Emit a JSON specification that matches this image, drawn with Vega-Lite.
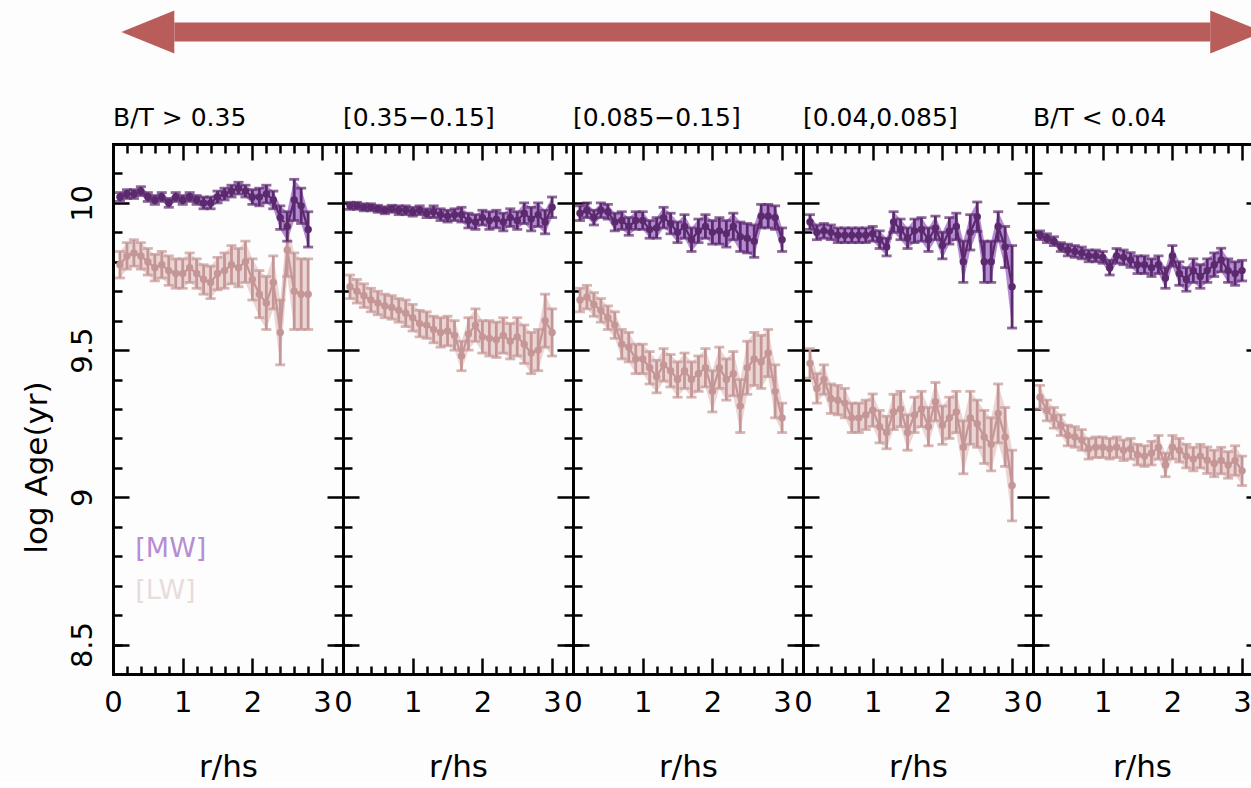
{
"$schema": "https://vega.github.io/schema/vega-lite/v6.json",
"background": "#fdfdfd",
"padding": {"left": 21, "top": 0, "right": 0, "bottom": 0},
"config": {
  "font": "DejaVu Sans",
  "view": {"stroke": null},
  "axis": {"grid": false, "domainColor": "black", "tickColor": "black", "labelColor": "black", "titleColor": "black", "labelFont": "DejaVu Sans", "titleFont": "DejaVu Sans", "titleFontWeight": "normal", "domainWidth": 3, "tickWidth": 2.5, "domainCap": "square", "labelFlush": false, "labelOverlap": false},
  "title": {"font": "DejaVu Sans", "fontSize": 25, "fontWeight": "normal", "anchor": "start", "frame": "group", "offset": 12, "baseline": "alphabetic", "color": "black"}
},
"datasets": {"d": [
{"p":1,"s":"LW","x":0.1,"y":9.79,"e":0.045},{"p":1,"s":"LW","x":0.2,"y":9.82,"e":0.045},{"p":1,"s":"LW","x":0.3,"y":9.83,"e":0.045},{"p":1,"s":"LW","x":0.4,"y":9.82,"e":0.045},{"p":1,"s":"LW","x":0.5,"y":9.80,"e":0.045},{"p":1,"s":"LW","x":0.6,"y":9.78,"e":0.045},{"p":1,"s":"LW","x":0.7,"y":9.79,"e":0.045},{"p":1,"s":"LW","x":0.8,"y":9.77,"e":0.05},{"p":1,"s":"LW","x":0.9,"y":9.76,"e":0.05},{"p":1,"s":"LW","x":1.0,"y":9.76,"e":0.05},{"p":1,"s":"LW","x":1.1,"y":9.78,"e":0.05},{"p":1,"s":"LW","x":1.2,"y":9.76,"e":0.05},{"p":1,"s":"LW","x":1.3,"y":9.74,"e":0.05},{"p":1,"s":"LW","x":1.4,"y":9.73,"e":0.055},{"p":1,"s":"LW","x":1.5,"y":9.76,"e":0.055},{"p":1,"s":"LW","x":1.6,"y":9.77,"e":0.06},{"p":1,"s":"LW","x":1.7,"y":9.79,"e":0.065},{"p":1,"s":"LW","x":1.8,"y":9.78,"e":0.065},{"p":1,"s":"LW","x":1.9,"y":9.80,"e":0.07},{"p":1,"s":"LW","x":2.0,"y":9.74,"e":0.07},{"p":1,"s":"LW","x":2.1,"y":9.69,"e":0.08},{"p":1,"s":"LW","x":2.2,"y":9.66,"e":0.09},{"p":1,"s":"LW","x":2.3,"y":9.73,"e":0.09},{"p":1,"s":"LW","x":2.4,"y":9.56,"e":0.11},{"p":1,"s":"LW","x":2.5,"y":9.84,"e":0.09},{"p":1,"s":"LW","x":2.6,"y":9.70,"e":0.13},{"p":1,"s":"LW","x":2.7,"y":9.69,"e":0.12},{"p":1,"s":"LW","x":2.8,"y":9.69,"e":0.12},
{"p":1,"s":"MW","x":0.1,"y":10.02,"e":0.015},{"p":1,"s":"MW","x":0.2,"y":10.03,"e":0.015},{"p":1,"s":"MW","x":0.3,"y":10.03,"e":0.015},{"p":1,"s":"MW","x":0.4,"y":10.04,"e":0.015},{"p":1,"s":"MW","x":0.5,"y":10.02,"e":0.015},{"p":1,"s":"MW","x":0.6,"y":10.01,"e":0.015},{"p":1,"s":"MW","x":0.7,"y":10.02,"e":0.015},{"p":1,"s":"MW","x":0.8,"y":10.0,"e":0.015},{"p":1,"s":"MW","x":0.9,"y":10.02,"e":0.015},{"p":1,"s":"MW","x":1.0,"y":10.01,"e":0.015},{"p":1,"s":"MW","x":1.1,"y":10.02,"e":0.015},{"p":1,"s":"MW","x":1.2,"y":10.01,"e":0.015},{"p":1,"s":"MW","x":1.3,"y":10.0,"e":0.02},{"p":1,"s":"MW","x":1.4,"y":10.0,"e":0.02},{"p":1,"s":"MW","x":1.5,"y":10.02,"e":0.02},{"p":1,"s":"MW","x":1.6,"y":10.03,"e":0.02},{"p":1,"s":"MW","x":1.7,"y":10.04,"e":0.02},{"p":1,"s":"MW","x":1.8,"y":10.05,"e":0.02},{"p":1,"s":"MW","x":1.9,"y":10.04,"e":0.02},{"p":1,"s":"MW","x":2.0,"y":10.02,"e":0.025},{"p":1,"s":"MW","x":2.1,"y":10.02,"e":0.03},{"p":1,"s":"MW","x":2.2,"y":10.03,"e":0.03},{"p":1,"s":"MW","x":2.3,"y":10.01,"e":0.03},{"p":1,"s":"MW","x":2.4,"y":9.95,"e":0.04},{"p":1,"s":"MW","x":2.5,"y":9.92,"e":0.05},{"p":1,"s":"MW","x":2.6,"y":10.01,"e":0.07},{"p":1,"s":"MW","x":2.7,"y":9.99,"e":0.06},{"p":1,"s":"MW","x":2.8,"y":9.91,"e":0.06},
{"p":2,"s":"LW","x":0.1,"y":9.715,"e":0.04},{"p":2,"s":"LW","x":0.2,"y":9.70,"e":0.04},{"p":2,"s":"LW","x":0.3,"y":9.685,"e":0.04},{"p":2,"s":"LW","x":0.4,"y":9.67,"e":0.04},{"p":2,"s":"LW","x":0.5,"y":9.66,"e":0.04},{"p":2,"s":"LW","x":0.6,"y":9.65,"e":0.04},{"p":2,"s":"LW","x":0.7,"y":9.645,"e":0.04},{"p":2,"s":"LW","x":0.8,"y":9.635,"e":0.04},{"p":2,"s":"LW","x":0.9,"y":9.625,"e":0.045},{"p":2,"s":"LW","x":1.0,"y":9.61,"e":0.045},{"p":2,"s":"LW","x":1.1,"y":9.59,"e":0.045},{"p":2,"s":"LW","x":1.2,"y":9.585,"e":0.045},{"p":2,"s":"LW","x":1.3,"y":9.57,"e":0.045},{"p":2,"s":"LW","x":1.4,"y":9.56,"e":0.05},{"p":2,"s":"LW","x":1.5,"y":9.565,"e":0.05},{"p":2,"s":"LW","x":1.6,"y":9.55,"e":0.05},{"p":2,"s":"LW","x":1.7,"y":9.48,"e":0.05},{"p":2,"s":"LW","x":1.8,"y":9.555,"e":0.055},{"p":2,"s":"LW","x":1.9,"y":9.585,"e":0.055},{"p":2,"s":"LW","x":2.0,"y":9.545,"e":0.055},{"p":2,"s":"LW","x":2.1,"y":9.54,"e":0.06},{"p":2,"s":"LW","x":2.2,"y":9.535,"e":0.06},{"p":2,"s":"LW","x":2.3,"y":9.55,"e":0.06},{"p":2,"s":"LW","x":2.4,"y":9.53,"e":0.06},{"p":2,"s":"LW","x":2.5,"y":9.545,"e":0.065},{"p":2,"s":"LW","x":2.6,"y":9.52,"e":0.065},{"p":2,"s":"LW","x":2.7,"y":9.49,"e":0.07},{"p":2,"s":"LW","x":2.8,"y":9.50,"e":0.07},{"p":2,"s":"LW","x":2.9,"y":9.60,"e":0.09},{"p":2,"s":"LW","x":3.0,"y":9.56,"e":0.08},
{"p":2,"s":"MW","x":0.1,"y":9.99,"e":0.012},{"p":2,"s":"MW","x":0.2,"y":9.99,"e":0.012},{"p":2,"s":"MW","x":0.3,"y":9.985,"e":0.012},{"p":2,"s":"MW","x":0.4,"y":9.985,"e":0.012},{"p":2,"s":"MW","x":0.5,"y":9.98,"e":0.012},{"p":2,"s":"MW","x":0.6,"y":9.975,"e":0.012},{"p":2,"s":"MW","x":0.7,"y":9.98,"e":0.012},{"p":2,"s":"MW","x":0.8,"y":9.975,"e":0.015},{"p":2,"s":"MW","x":0.9,"y":9.975,"e":0.015},{"p":2,"s":"MW","x":1.0,"y":9.97,"e":0.015},{"p":2,"s":"MW","x":1.1,"y":9.975,"e":0.015},{"p":2,"s":"MW","x":1.2,"y":9.965,"e":0.015},{"p":2,"s":"MW","x":1.3,"y":9.97,"e":0.02},{"p":2,"s":"MW","x":1.4,"y":9.96,"e":0.02},{"p":2,"s":"MW","x":1.5,"y":9.955,"e":0.02},{"p":2,"s":"MW","x":1.6,"y":9.96,"e":0.02},{"p":2,"s":"MW","x":1.7,"y":9.96,"e":0.025},{"p":2,"s":"MW","x":1.8,"y":9.94,"e":0.025},{"p":2,"s":"MW","x":1.9,"y":9.935,"e":0.025},{"p":2,"s":"MW","x":2.0,"y":9.95,"e":0.025},{"p":2,"s":"MW","x":2.1,"y":9.94,"e":0.03},{"p":2,"s":"MW","x":2.2,"y":9.945,"e":0.03},{"p":2,"s":"MW","x":2.3,"y":9.935,"e":0.03},{"p":2,"s":"MW","x":2.4,"y":9.95,"e":0.03},{"p":2,"s":"MW","x":2.5,"y":9.94,"e":0.03},{"p":2,"s":"MW","x":2.6,"y":9.965,"e":0.035},{"p":2,"s":"MW","x":2.7,"y":9.945,"e":0.04},{"p":2,"s":"MW","x":2.8,"y":9.96,"e":0.04},{"p":2,"s":"MW","x":2.9,"y":9.935,"e":0.04},{"p":2,"s":"MW","x":3.0,"y":9.985,"e":0.035},
{"p":3,"s":"LW","x":0.1,"y":9.67,"e":0.04},{"p":3,"s":"LW","x":0.2,"y":9.68,"e":0.04},{"p":3,"s":"LW","x":0.3,"y":9.655,"e":0.04},{"p":3,"s":"LW","x":0.4,"y":9.635,"e":0.04},{"p":3,"s":"LW","x":0.5,"y":9.61,"e":0.04},{"p":3,"s":"LW","x":0.6,"y":9.585,"e":0.045},{"p":3,"s":"LW","x":0.7,"y":9.52,"e":0.05},{"p":3,"s":"LW","x":0.8,"y":9.51,"e":0.05},{"p":3,"s":"LW","x":0.9,"y":9.47,"e":0.05},{"p":3,"s":"LW","x":1.0,"y":9.47,"e":0.05},{"p":3,"s":"LW","x":1.1,"y":9.44,"e":0.055},{"p":3,"s":"LW","x":1.2,"y":9.41,"e":0.055},{"p":3,"s":"LW","x":1.3,"y":9.45,"e":0.055},{"p":3,"s":"LW","x":1.4,"y":9.43,"e":0.055},{"p":3,"s":"LW","x":1.5,"y":9.40,"e":0.06},{"p":3,"s":"LW","x":1.6,"y":9.43,"e":0.06},{"p":3,"s":"LW","x":1.7,"y":9.40,"e":0.06},{"p":3,"s":"LW","x":1.8,"y":9.42,"e":0.06},{"p":3,"s":"LW","x":1.9,"y":9.44,"e":0.065},{"p":3,"s":"LW","x":2.0,"y":9.36,"e":0.07},{"p":3,"s":"LW","x":2.1,"y":9.44,"e":0.07},{"p":3,"s":"LW","x":2.2,"y":9.40,"e":0.07},{"p":3,"s":"LW","x":2.3,"y":9.42,"e":0.075},{"p":3,"s":"LW","x":2.4,"y":9.31,"e":0.09},{"p":3,"s":"LW","x":2.5,"y":9.44,"e":0.09},{"p":3,"s":"LW","x":2.6,"y":9.47,"e":0.09},{"p":3,"s":"LW","x":2.7,"y":9.46,"e":0.09},{"p":3,"s":"LW","x":2.8,"y":9.49,"e":0.08},{"p":3,"s":"LW","x":2.9,"y":9.36,"e":0.09},{"p":3,"s":"LW","x":3.0,"y":9.27,"e":0.05},
{"p":3,"s":"MW","x":0.1,"y":9.965,"e":0.025},{"p":3,"s":"MW","x":0.2,"y":9.975,"e":0.025},{"p":3,"s":"MW","x":0.3,"y":9.95,"e":0.025},{"p":3,"s":"MW","x":0.4,"y":9.975,"e":0.025},{"p":3,"s":"MW","x":0.5,"y":9.97,"e":0.025},{"p":3,"s":"MW","x":0.6,"y":9.935,"e":0.03},{"p":3,"s":"MW","x":0.7,"y":9.94,"e":0.03},{"p":3,"s":"MW","x":0.8,"y":9.92,"e":0.03},{"p":3,"s":"MW","x":0.9,"y":9.94,"e":0.03},{"p":3,"s":"MW","x":1.0,"y":9.94,"e":0.03},{"p":3,"s":"MW","x":1.1,"y":9.91,"e":0.03},{"p":3,"s":"MW","x":1.2,"y":9.915,"e":0.035},{"p":3,"s":"MW","x":1.3,"y":9.95,"e":0.035},{"p":3,"s":"MW","x":1.4,"y":9.93,"e":0.035},{"p":3,"s":"MW","x":1.5,"y":9.90,"e":0.035},{"p":3,"s":"MW","x":1.6,"y":9.92,"e":0.04},{"p":3,"s":"MW","x":1.7,"y":9.875,"e":0.04},{"p":3,"s":"MW","x":1.8,"y":9.905,"e":0.04},{"p":3,"s":"MW","x":1.9,"y":9.92,"e":0.04},{"p":3,"s":"MW","x":2.0,"y":9.90,"e":0.04},{"p":3,"s":"MW","x":2.1,"y":9.905,"e":0.045},{"p":3,"s":"MW","x":2.2,"y":9.895,"e":0.045},{"p":3,"s":"MW","x":2.3,"y":9.92,"e":0.045},{"p":3,"s":"MW","x":2.4,"y":9.885,"e":0.05},{"p":3,"s":"MW","x":2.5,"y":9.88,"e":0.05},{"p":3,"s":"MW","x":2.6,"y":9.87,"e":0.055},{"p":3,"s":"MW","x":2.7,"y":9.955,"e":0.04},{"p":3,"s":"MW","x":2.8,"y":9.955,"e":0.04},{"p":3,"s":"MW","x":2.9,"y":9.95,"e":0.04},{"p":3,"s":"MW","x":3.0,"y":9.875,"e":0.04},
{"p":4,"s":"LW","x":0.1,"y":9.455,"e":0.05},{"p":4,"s":"LW","x":0.2,"y":9.37,"e":0.05},{"p":4,"s":"LW","x":0.3,"y":9.40,"e":0.05},{"p":4,"s":"LW","x":0.4,"y":9.335,"e":0.05},{"p":4,"s":"LW","x":0.5,"y":9.33,"e":0.05},{"p":4,"s":"LW","x":0.6,"y":9.32,"e":0.05},{"p":4,"s":"LW","x":0.7,"y":9.27,"e":0.05},{"p":4,"s":"LW","x":0.8,"y":9.27,"e":0.05},{"p":4,"s":"LW","x":0.9,"y":9.28,"e":0.05},{"p":4,"s":"LW","x":1.0,"y":9.296,"e":0.055},{"p":4,"s":"LW","x":1.1,"y":9.24,"e":0.055},{"p":4,"s":"LW","x":1.2,"y":9.22,"e":0.055},{"p":4,"s":"LW","x":1.3,"y":9.29,"e":0.06},{"p":4,"s":"LW","x":1.4,"y":9.30,"e":0.06},{"p":4,"s":"LW","x":1.5,"y":9.22,"e":0.06},{"p":4,"s":"LW","x":1.6,"y":9.28,"e":0.06},{"p":4,"s":"LW","x":1.7,"y":9.30,"e":0.06},{"p":4,"s":"LW","x":1.8,"y":9.24,"e":0.065},{"p":4,"s":"LW","x":1.9,"y":9.325,"e":0.065},{"p":4,"s":"LW","x":2.0,"y":9.245,"e":0.065},{"p":4,"s":"LW","x":2.1,"y":9.27,"e":0.07},{"p":4,"s":"LW","x":2.2,"y":9.29,"e":0.07},{"p":4,"s":"LW","x":2.3,"y":9.17,"e":0.09},{"p":4,"s":"LW","x":2.4,"y":9.27,"e":0.09},{"p":4,"s":"LW","x":2.5,"y":9.25,"e":0.08},{"p":4,"s":"LW","x":2.6,"y":9.205,"e":0.09},{"p":4,"s":"LW","x":2.7,"y":9.18,"e":0.09},{"p":4,"s":"LW","x":2.8,"y":9.285,"e":0.1},{"p":4,"s":"LW","x":2.9,"y":9.205,"e":0.1},{"p":4,"s":"LW","x":3.0,"y":9.04,"e":0.12},
{"p":4,"s":"MW","x":0.1,"y":9.935,"e":0.025},{"p":4,"s":"MW","x":0.2,"y":9.90,"e":0.025},{"p":4,"s":"MW","x":0.3,"y":9.905,"e":0.025},{"p":4,"s":"MW","x":0.4,"y":9.90,"e":0.025},{"p":4,"s":"MW","x":0.5,"y":9.89,"e":0.025},{"p":4,"s":"MW","x":0.6,"y":9.89,"e":0.025},{"p":4,"s":"MW","x":0.7,"y":9.89,"e":0.025},{"p":4,"s":"MW","x":0.8,"y":9.89,"e":0.025},{"p":4,"s":"MW","x":0.9,"y":9.89,"e":0.025},{"p":4,"s":"MW","x":1.0,"y":9.895,"e":0.025},{"p":4,"s":"MW","x":1.1,"y":9.875,"e":0.03},{"p":4,"s":"MW","x":1.2,"y":9.85,"e":0.03},{"p":4,"s":"MW","x":1.3,"y":9.935,"e":0.035},{"p":4,"s":"MW","x":1.4,"y":9.91,"e":0.035},{"p":4,"s":"MW","x":1.5,"y":9.88,"e":0.035},{"p":4,"s":"MW","x":1.6,"y":9.905,"e":0.04},{"p":4,"s":"MW","x":1.7,"y":9.91,"e":0.04},{"p":4,"s":"MW","x":1.8,"y":9.875,"e":0.04},{"p":4,"s":"MW","x":1.9,"y":9.915,"e":0.04},{"p":4,"s":"MW","x":2.0,"y":9.855,"e":0.045},{"p":4,"s":"MW","x":2.1,"y":9.905,"e":0.045},{"p":4,"s":"MW","x":2.2,"y":9.92,"e":0.045},{"p":4,"s":"MW","x":2.3,"y":9.80,"e":0.07},{"p":4,"s":"MW","x":2.4,"y":9.90,"e":0.06},{"p":4,"s":"MW","x":2.5,"y":9.953,"e":0.05},{"p":4,"s":"MW","x":2.6,"y":9.80,"e":0.07},{"p":4,"s":"MW","x":2.7,"y":9.80,"e":0.07},{"p":4,"s":"MW","x":2.8,"y":9.92,"e":0.05},{"p":4,"s":"MW","x":2.9,"y":9.85,"e":0.07},{"p":4,"s":"MW","x":3.0,"y":9.715,"e":0.14},
{"p":5,"s":"LW","x":0.1,"y":9.34,"e":0.04},{"p":5,"s":"LW","x":0.2,"y":9.295,"e":0.035},{"p":5,"s":"LW","x":0.3,"y":9.27,"e":0.035},{"p":5,"s":"LW","x":0.4,"y":9.245,"e":0.035},{"p":5,"s":"LW","x":0.5,"y":9.21,"e":0.035},{"p":5,"s":"LW","x":0.6,"y":9.205,"e":0.035},{"p":5,"s":"LW","x":0.7,"y":9.195,"e":0.035},{"p":5,"s":"LW","x":0.8,"y":9.165,"e":0.035},{"p":5,"s":"LW","x":0.9,"y":9.17,"e":0.035},{"p":5,"s":"LW","x":1.0,"y":9.17,"e":0.035},{"p":5,"s":"LW","x":1.1,"y":9.165,"e":0.035},{"p":5,"s":"LW","x":1.2,"y":9.17,"e":0.035},{"p":5,"s":"LW","x":1.3,"y":9.16,"e":0.035},{"p":5,"s":"LW","x":1.4,"y":9.165,"e":0.035},{"p":5,"s":"LW","x":1.5,"y":9.145,"e":0.035},{"p":5,"s":"LW","x":1.6,"y":9.14,"e":0.035},{"p":5,"s":"LW","x":1.7,"y":9.15,"e":0.04},{"p":5,"s":"LW","x":1.8,"y":9.17,"e":0.04},{"p":5,"s":"LW","x":1.9,"y":9.11,"e":0.04},{"p":5,"s":"LW","x":2.0,"y":9.17,"e":0.04},{"p":5,"s":"LW","x":2.1,"y":9.16,"e":0.04},{"p":5,"s":"LW","x":2.2,"y":9.14,"e":0.04},{"p":5,"s":"LW","x":2.3,"y":9.13,"e":0.04},{"p":5,"s":"LW","x":2.4,"y":9.14,"e":0.04},{"p":5,"s":"LW","x":2.5,"y":9.126,"e":0.045},{"p":5,"s":"LW","x":2.6,"y":9.115,"e":0.045},{"p":5,"s":"LW","x":2.7,"y":9.125,"e":0.045},{"p":5,"s":"LW","x":2.8,"y":9.11,"e":0.045},{"p":5,"s":"LW","x":2.9,"y":9.125,"e":0.05},{"p":5,"s":"LW","x":3.0,"y":9.09,"e":0.05},
{"p":5,"s":"MW","x":0.1,"y":9.89,"e":0.015},{"p":5,"s":"MW","x":0.2,"y":9.88,"e":0.015},{"p":5,"s":"MW","x":0.3,"y":9.87,"e":0.015},{"p":5,"s":"MW","x":0.4,"y":9.85,"e":0.015},{"p":5,"s":"MW","x":0.5,"y":9.84,"e":0.02},{"p":5,"s":"MW","x":0.6,"y":9.835,"e":0.02},{"p":5,"s":"MW","x":0.7,"y":9.83,"e":0.02},{"p":5,"s":"MW","x":0.8,"y":9.82,"e":0.02},{"p":5,"s":"MW","x":0.9,"y":9.82,"e":0.02},{"p":5,"s":"MW","x":1.0,"y":9.815,"e":0.02},{"p":5,"s":"MW","x":1.1,"y":9.78,"e":0.025},{"p":5,"s":"MW","x":1.2,"y":9.82,"e":0.025},{"p":5,"s":"MW","x":1.3,"y":9.815,"e":0.025},{"p":5,"s":"MW","x":1.4,"y":9.806,"e":0.025},{"p":5,"s":"MW","x":1.5,"y":9.79,"e":0.03},{"p":5,"s":"MW","x":1.6,"y":9.79,"e":0.03},{"p":5,"s":"MW","x":1.7,"y":9.78,"e":0.03},{"p":5,"s":"MW","x":1.8,"y":9.79,"e":0.03},{"p":5,"s":"MW","x":1.9,"y":9.745,"e":0.035},{"p":5,"s":"MW","x":2.0,"y":9.82,"e":0.035},{"p":5,"s":"MW","x":2.1,"y":9.76,"e":0.04},{"p":5,"s":"MW","x":2.2,"y":9.74,"e":0.04},{"p":5,"s":"MW","x":2.3,"y":9.77,"e":0.04},{"p":5,"s":"MW","x":2.4,"y":9.75,"e":0.04},{"p":5,"s":"MW","x":2.5,"y":9.77,"e":0.04},{"p":5,"s":"MW","x":2.6,"y":9.79,"e":0.04},{"p":5,"s":"MW","x":2.7,"y":9.806,"e":0.04},{"p":5,"s":"MW","x":2.8,"y":9.77,"e":0.04},{"p":5,"s":"MW","x":2.9,"y":9.76,"e":0.04},{"p":5,"s":"MW","x":3.0,"y":9.77,"e":0.035}
]},
"spacing": 41,
"vconcat": [
 {
  "width": 1138, "height": 64,
  "layer": [
   {"data": {"values": [{"a": 0.0539, "b": 0.9642, "y": 0.5}]},
    "mark": {"type": "rule", "strokeWidth": 19, "color": "#b85d5a", "strokeCap": "butt"},
    "encoding": {"x": {"field": "a", "type": "quantitative", "scale": {"domain": [0, 1], "nice": false, "zero": false}, "axis": null},
                 "x2": {"field": "b"},
                 "y": {"field": "y", "type": "quantitative", "scale": {"domain": [0, 1], "nice": false}, "axis": null}}},
   {"data": {"values": [{"a": 0.0306, "y": 0.5, "d": "left"}, {"a": 0.9875, "y": 0.5, "d": "right"}]},
    "mark": {"type": "point", "filled": true, "size": 2809, "color": "#b85d5a", "opacity": 1, "strokeWidth": 0, "clip": true},
    "encoding": {"x": {"field": "a", "type": "quantitative", "axis": null},
                 "y": {"field": "y", "type": "quantitative", "axis": null},
                 "shape": {"field": "d", "type": "nominal", "scale": {"domain": ["left", "right"], "range": ["M 1 -0.81 L -1 0 L 1 0.81 Z", "M -1 -0.81 L 1 0 L -1 0.81 Z"]}, "legend": null}}}
  ]
 },
 {
  "spacing": 0,
  "bounds": "flush",
  "hconcat": [
   {
    "width": 230, "height": 530,
    "title": {"text": "B/T > 0.35"},
    "data": {"name": "d"},
    "transform": [{"filter": {"field": "p", "equal": 1}}],
    "resolve": {"axis": {"x": "independent", "y": "independent"}},
    "layer": [
     {"transform": [{"filter": {"field": "s", "equal": "LW"}}],
      "mark": {"type": "errorband", "color": "#ebd5d5", "band": {"opacity": 1}},
      "encoding": {"x": {"field": "x", "type": "quantitative", "scale": {"domain": [0, 3.3], "nice": false, "zero": false}, "axis": {"orient": "bottom", "values": [0, 1, 2, 3], "ticks": false, "tickSize": 0, "domain": true, "labelFontSize": 29, "labelPadding": 14, "title": "r/hs", "titleFontSize": 31, "titlePadding": 35}},
                   "y": {"field": "y", "type": "quantitative", "scale": {"domain": [8.4, 10.2], "nice": false, "zero": false}, "axis": {"orient": "left", "values": [8.5, 9, 9.5, 10], "format": "~g", "ticks": false, "tickSize": 0, "domain": true, "labelAngle": -90, "labelAlign": "center", "labelBaseline": "alphabetic", "labelPadding": 22, "labelFontSize": 29, "title": "log Age(yr)", "titleFontSize": 31, "titlePadding": 15, "titleY": 323}},
                   "yError": {"field": "e"}}},
     {"transform": [{"filter": {"field": "s", "equal": "MW"}}],
      "mark": {"type": "errorband", "color": "#b48cd4", "band": {"opacity": 1}},
      "encoding": {"x": {"field": "x", "type": "quantitative", "axis": {"orient": "top", "values": [0, 1, 2, 3], "tickSize": -16, "labels": false, "domain": true, "title": null}},
                   "y": {"field": "y", "type": "quantitative", "axis": {"orient": "right", "values": [8.5, 9, 9.5, 10], "tickSize": -16, "labels": false, "domain": true, "title": null}},
                   "yError": {"field": "e"}}},
     {"mark": {"type": "line", "strokeWidth": 2.2},
      "encoding": {"x": {"field": "x", "type": "quantitative", "axis": {"orient": "bottom", "values": [0, 1, 2, 3], "tickSize": -16, "labels": false, "domain": false, "title": null}},
                   "y": {"field": "y", "type": "quantitative", "axis": {"orient": "left", "values": [8.5, 9, 9.5, 10], "tickSize": -16, "labels": false, "domain": false, "title": null}},
                   "color": {"field": "s", "type": "nominal", "scale": {"domain": ["MW", "LW"], "range": ["#5b2a6c", "#c59696"]}, "legend": null}}},
     {"transform": [{"filter": {"field": "s", "equal": "LW"}}],
      "mark": {"type": "errorbar", "color": "#c59696", "ticks": true, "size": 10, "thickness": 2.8},
      "encoding": {"x": {"field": "x", "type": "quantitative", "axis": {"orient": "bottom", "values": [0.2, 0.4, 0.6, 0.8, 1.2, 1.4, 1.6, 1.8, 2.2, 2.4, 2.6, 2.8, 3.2], "tickSize": -8, "labels": false, "domain": false, "title": null}},
                   "y": {"field": "y", "type": "quantitative", "axis": {"orient": "left", "values": [8.5, 8.6, 8.7, 8.8, 8.9, 9.1, 9.2, 9.3, 9.4, 9.6, 9.7, 9.8, 9.9, 10.1], "tickSize": -9, "labels": false, "domain": false, "title": null}},
                   "yError": {"field": "e"}}},
     {"transform": [{"filter": {"field": "s", "equal": "MW"}}],
      "mark": {"type": "errorbar", "color": "#5b2a6c", "ticks": true, "size": 10, "thickness": 2.8},
      "encoding": {"x": {"field": "x", "type": "quantitative", "axis": {"orient": "top", "values": [0.2, 0.4, 0.6, 0.8, 1.2, 1.4, 1.6, 1.8, 2.2, 2.4, 2.6, 2.8, 3.2], "tickSize": -9, "labels": false, "domain": false, "title": null}},
                   "y": {"field": "y", "type": "quantitative", "axis": {"orient": "right", "values": [8.5, 8.6, 8.7, 8.8, 8.9, 9.1, 9.2, 9.3, 9.4, 9.6, 9.7, 9.8, 9.9, 10.1], "tickSize": -9, "labels": false, "domain": false, "title": null}},
                   "yError": {"field": "e"}}},
     {"mark": {"type": "circle", "size": 55, "opacity": 1},
      "encoding": {"x": {"field": "x", "type": "quantitative", "axis": null},
                   "y": {"field": "y", "type": "quantitative", "axis": null},
                   "color": {"field": "s", "type": "nominal", "legend": null}}},
     {"data": {"values": [{"p": 1, "x": 0.32, "y": 8.796, "t": "[MW]"}, {"p": 1, "x": 0.32, "y": 8.656, "t": "[LW]"}]},
      "mark": {"type": "text", "align": "left", "baseline": "alphabetic", "fontSize": 27, "font": "DejaVu Sans"},
      "encoding": {"x": {"field": "x", "type": "quantitative", "axis": null},
                   "y": {"field": "y", "type": "quantitative", "axis": null},
                   "text": {"field": "t"},
                   "fill": {"field": "t", "type": "nominal", "scale": {"domain": ["[MW]", "[LW]"], "range": ["#b68dd4", "#e8dcdc"]}, "legend": null}}}
    ]
   },
   {
    "width": 230, "height": 530,
    "title": {"text": "[0.35−0.15]"},
    "data": {"name": "d"},
    "transform": [{"filter": {"field": "p", "equal": 2}}],
    "resolve": {"axis": {"x": "independent", "y": "independent"}},
    "layer": [
     {"transform": [{"filter": {"field": "s", "equal": "LW"}}],
      "mark": {"type": "errorband", "color": "#ebd5d5", "band": {"opacity": 1}},
      "encoding": {"x": {"field": "x", "type": "quantitative", "scale": {"domain": [0, 3.3], "nice": false, "zero": false}, "axis": {"orient": "bottom", "values": [0, 1, 2, 3], "ticks": false, "tickSize": 0, "domain": true, "labelFontSize": 29, "labelPadding": 14, "title": "r/hs", "titleFontSize": 31, "titlePadding": 35}},
                   "y": {"field": "y", "type": "quantitative", "scale": {"domain": [8.4, 10.2], "nice": false, "zero": false}, "axis": {"orient": "left", "ticks": false, "labels": false, "domain": true, "title": null}},
                   "yError": {"field": "e"}}},
     {"transform": [{"filter": {"field": "s", "equal": "MW"}}],
      "mark": {"type": "errorband", "color": "#b48cd4", "band": {"opacity": 1}},
      "encoding": {"x": {"field": "x", "type": "quantitative", "axis": {"orient": "top", "values": [0, 1, 2, 3], "tickSize": -16, "labels": false, "domain": true, "title": null}},
                   "y": {"field": "y", "type": "quantitative", "axis": {"orient": "right", "values": [8.5, 9, 9.5, 10], "tickSize": -16, "labels": false, "domain": true, "title": null}},
                   "yError": {"field": "e"}}},
     {"mark": {"type": "line", "strokeWidth": 2.2},
      "encoding": {"x": {"field": "x", "type": "quantitative", "axis": {"orient": "bottom", "values": [0, 1, 2, 3], "tickSize": -16, "labels": false, "domain": false, "title": null}},
                   "y": {"field": "y", "type": "quantitative", "axis": {"orient": "left", "values": [8.5, 9, 9.5, 10], "tickSize": -16, "labels": false, "domain": false, "title": null}},
                   "color": {"field": "s", "type": "nominal", "scale": {"domain": ["MW", "LW"], "range": ["#5b2a6c", "#c59696"]}, "legend": null}}},
     {"transform": [{"filter": {"field": "s", "equal": "LW"}}],
      "mark": {"type": "errorbar", "color": "#c59696", "ticks": true, "size": 10, "thickness": 2.8},
      "encoding": {"x": {"field": "x", "type": "quantitative", "axis": {"orient": "bottom", "values": [0.2, 0.4, 0.6, 0.8, 1.2, 1.4, 1.6, 1.8, 2.2, 2.4, 2.6, 2.8, 3.2], "tickSize": -8, "labels": false, "domain": false, "title": null}},
                   "y": {"field": "y", "type": "quantitative", "axis": {"orient": "left", "values": [8.5, 8.6, 8.7, 8.8, 8.9, 9.1, 9.2, 9.3, 9.4, 9.6, 9.7, 9.8, 9.9, 10.1], "tickSize": -9, "labels": false, "domain": false, "title": null}},
                   "yError": {"field": "e"}}},
     {"transform": [{"filter": {"field": "s", "equal": "MW"}}],
      "mark": {"type": "errorbar", "color": "#5b2a6c", "ticks": true, "size": 10, "thickness": 2.8},
      "encoding": {"x": {"field": "x", "type": "quantitative", "axis": {"orient": "top", "values": [0.2, 0.4, 0.6, 0.8, 1.2, 1.4, 1.6, 1.8, 2.2, 2.4, 2.6, 2.8, 3.2], "tickSize": -9, "labels": false, "domain": false, "title": null}},
                   "y": {"field": "y", "type": "quantitative", "axis": {"orient": "right", "values": [8.5, 8.6, 8.7, 8.8, 8.9, 9.1, 9.2, 9.3, 9.4, 9.6, 9.7, 9.8, 9.9, 10.1], "tickSize": -9, "labels": false, "domain": false, "title": null}},
                   "yError": {"field": "e"}}},
     {"mark": {"type": "circle", "size": 55, "opacity": 1},
      "encoding": {"x": {"field": "x", "type": "quantitative", "axis": null},
                   "y": {"field": "y", "type": "quantitative", "axis": null},
                   "color": {"field": "s", "type": "nominal", "legend": null}}}
    ]
   },
   {
    "width": 230, "height": 530,
    "title": {"text": "[0.085−0.15]"},
    "data": {"name": "d"},
    "transform": [{"filter": {"field": "p", "equal": 3}}],
    "resolve": {"axis": {"x": "independent", "y": "independent"}},
    "layer": [
     {"transform": [{"filter": {"field": "s", "equal": "LW"}}],
      "mark": {"type": "errorband", "color": "#ebd5d5", "band": {"opacity": 1}},
      "encoding": {"x": {"field": "x", "type": "quantitative", "scale": {"domain": [0, 3.3], "nice": false, "zero": false}, "axis": {"orient": "bottom", "values": [0, 1, 2, 3], "ticks": false, "tickSize": 0, "domain": true, "labelFontSize": 29, "labelPadding": 14, "title": "r/hs", "titleFontSize": 31, "titlePadding": 35}},
                   "y": {"field": "y", "type": "quantitative", "scale": {"domain": [8.4, 10.2], "nice": false, "zero": false}, "axis": {"orient": "left", "ticks": false, "labels": false, "domain": true, "title": null}},
                   "yError": {"field": "e"}}},
     {"transform": [{"filter": {"field": "s", "equal": "MW"}}],
      "mark": {"type": "errorband", "color": "#b48cd4", "band": {"opacity": 1}},
      "encoding": {"x": {"field": "x", "type": "quantitative", "axis": {"orient": "top", "values": [0, 1, 2, 3], "tickSize": -16, "labels": false, "domain": true, "title": null}},
                   "y": {"field": "y", "type": "quantitative", "axis": {"orient": "right", "values": [8.5, 9, 9.5, 10], "tickSize": -16, "labels": false, "domain": true, "title": null}},
                   "yError": {"field": "e"}}},
     {"mark": {"type": "line", "strokeWidth": 2.2},
      "encoding": {"x": {"field": "x", "type": "quantitative", "axis": {"orient": "bottom", "values": [0, 1, 2, 3], "tickSize": -16, "labels": false, "domain": false, "title": null}},
                   "y": {"field": "y", "type": "quantitative", "axis": {"orient": "left", "values": [8.5, 9, 9.5, 10], "tickSize": -16, "labels": false, "domain": false, "title": null}},
                   "color": {"field": "s", "type": "nominal", "scale": {"domain": ["MW", "LW"], "range": ["#5b2a6c", "#c59696"]}, "legend": null}}},
     {"transform": [{"filter": {"field": "s", "equal": "LW"}}],
      "mark": {"type": "errorbar", "color": "#c59696", "ticks": true, "size": 10, "thickness": 2.8},
      "encoding": {"x": {"field": "x", "type": "quantitative", "axis": {"orient": "bottom", "values": [0.2, 0.4, 0.6, 0.8, 1.2, 1.4, 1.6, 1.8, 2.2, 2.4, 2.6, 2.8, 3.2], "tickSize": -8, "labels": false, "domain": false, "title": null}},
                   "y": {"field": "y", "type": "quantitative", "axis": {"orient": "left", "values": [8.5, 8.6, 8.7, 8.8, 8.9, 9.1, 9.2, 9.3, 9.4, 9.6, 9.7, 9.8, 9.9, 10.1], "tickSize": -9, "labels": false, "domain": false, "title": null}},
                   "yError": {"field": "e"}}},
     {"transform": [{"filter": {"field": "s", "equal": "MW"}}],
      "mark": {"type": "errorbar", "color": "#5b2a6c", "ticks": true, "size": 10, "thickness": 2.8},
      "encoding": {"x": {"field": "x", "type": "quantitative", "axis": {"orient": "top", "values": [0.2, 0.4, 0.6, 0.8, 1.2, 1.4, 1.6, 1.8, 2.2, 2.4, 2.6, 2.8, 3.2], "tickSize": -9, "labels": false, "domain": false, "title": null}},
                   "y": {"field": "y", "type": "quantitative", "axis": {"orient": "right", "values": [8.5, 8.6, 8.7, 8.8, 8.9, 9.1, 9.2, 9.3, 9.4, 9.6, 9.7, 9.8, 9.9, 10.1], "tickSize": -9, "labels": false, "domain": false, "title": null}},
                   "yError": {"field": "e"}}},
     {"mark": {"type": "circle", "size": 55, "opacity": 1},
      "encoding": {"x": {"field": "x", "type": "quantitative", "axis": null},
                   "y": {"field": "y", "type": "quantitative", "axis": null},
                   "color": {"field": "s", "type": "nominal", "legend": null}}}
    ]
   },
   {
    "width": 230, "height": 530,
    "title": {"text": "[0.04,0.085]"},
    "data": {"name": "d"},
    "transform": [{"filter": {"field": "p", "equal": 4}}],
    "resolve": {"axis": {"x": "independent", "y": "independent"}},
    "layer": [
     {"transform": [{"filter": {"field": "s", "equal": "LW"}}],
      "mark": {"type": "errorband", "color": "#ebd5d5", "band": {"opacity": 1}},
      "encoding": {"x": {"field": "x", "type": "quantitative", "scale": {"domain": [0, 3.3], "nice": false, "zero": false}, "axis": {"orient": "bottom", "values": [0, 1, 2, 3], "ticks": false, "tickSize": 0, "domain": true, "labelFontSize": 29, "labelPadding": 14, "title": "r/hs", "titleFontSize": 31, "titlePadding": 35}},
                   "y": {"field": "y", "type": "quantitative", "scale": {"domain": [8.4, 10.2], "nice": false, "zero": false}, "axis": {"orient": "left", "ticks": false, "labels": false, "domain": true, "title": null}},
                   "yError": {"field": "e"}}},
     {"transform": [{"filter": {"field": "s", "equal": "MW"}}],
      "mark": {"type": "errorband", "color": "#b48cd4", "band": {"opacity": 1}},
      "encoding": {"x": {"field": "x", "type": "quantitative", "axis": {"orient": "top", "values": [0, 1, 2, 3], "tickSize": -16, "labels": false, "domain": true, "title": null}},
                   "y": {"field": "y", "type": "quantitative", "axis": {"orient": "right", "values": [8.5, 9, 9.5, 10], "tickSize": -16, "labels": false, "domain": true, "title": null}},
                   "yError": {"field": "e"}}},
     {"mark": {"type": "line", "strokeWidth": 2.2},
      "encoding": {"x": {"field": "x", "type": "quantitative", "axis": {"orient": "bottom", "values": [0, 1, 2, 3], "tickSize": -16, "labels": false, "domain": false, "title": null}},
                   "y": {"field": "y", "type": "quantitative", "axis": {"orient": "left", "values": [8.5, 9, 9.5, 10], "tickSize": -16, "labels": false, "domain": false, "title": null}},
                   "color": {"field": "s", "type": "nominal", "scale": {"domain": ["MW", "LW"], "range": ["#5b2a6c", "#c59696"]}, "legend": null}}},
     {"transform": [{"filter": {"field": "s", "equal": "LW"}}],
      "mark": {"type": "errorbar", "color": "#c59696", "ticks": true, "size": 10, "thickness": 2.8},
      "encoding": {"x": {"field": "x", "type": "quantitative", "axis": {"orient": "bottom", "values": [0.2, 0.4, 0.6, 0.8, 1.2, 1.4, 1.6, 1.8, 2.2, 2.4, 2.6, 2.8, 3.2], "tickSize": -8, "labels": false, "domain": false, "title": null}},
                   "y": {"field": "y", "type": "quantitative", "axis": {"orient": "left", "values": [8.5, 8.6, 8.7, 8.8, 8.9, 9.1, 9.2, 9.3, 9.4, 9.6, 9.7, 9.8, 9.9, 10.1], "tickSize": -9, "labels": false, "domain": false, "title": null}},
                   "yError": {"field": "e"}}},
     {"transform": [{"filter": {"field": "s", "equal": "MW"}}],
      "mark": {"type": "errorbar", "color": "#5b2a6c", "ticks": true, "size": 10, "thickness": 2.8},
      "encoding": {"x": {"field": "x", "type": "quantitative", "axis": {"orient": "top", "values": [0.2, 0.4, 0.6, 0.8, 1.2, 1.4, 1.6, 1.8, 2.2, 2.4, 2.6, 2.8, 3.2], "tickSize": -9, "labels": false, "domain": false, "title": null}},
                   "y": {"field": "y", "type": "quantitative", "axis": {"orient": "right", "values": [8.5, 8.6, 8.7, 8.8, 8.9, 9.1, 9.2, 9.3, 9.4, 9.6, 9.7, 9.8, 9.9, 10.1], "tickSize": -9, "labels": false, "domain": false, "title": null}},
                   "yError": {"field": "e"}}},
     {"mark": {"type": "circle", "size": 55, "opacity": 1},
      "encoding": {"x": {"field": "x", "type": "quantitative", "axis": null},
                   "y": {"field": "y", "type": "quantitative", "axis": null},
                   "color": {"field": "s", "type": "nominal", "legend": null}}}
    ]
   },
   {
    "width": 218, "height": 530,
    "title": {"text": "B/T < 0.04"},
    "data": {"name": "d"},
    "transform": [{"filter": {"field": "p", "equal": 5}}],
    "resolve": {"axis": {"x": "independent", "y": "independent"}},
    "layer": [
     {"transform": [{"filter": {"field": "s", "equal": "LW"}}],
      "mark": {"type": "errorband", "color": "#ebd5d5", "band": {"opacity": 1}},
      "encoding": {"x": {"field": "x", "type": "quantitative", "scale": {"domain": [0, 3.128], "nice": false, "zero": false}, "axis": {"orient": "bottom", "values": [0, 1, 2, 3], "ticks": false, "tickSize": 0, "domain": true, "labelFontSize": 29, "labelPadding": 14, "title": "r/hs", "titleFontSize": 31, "titlePadding": 35}},
                   "y": {"field": "y", "type": "quantitative", "scale": {"domain": [8.4, 10.2], "nice": false, "zero": false}, "axis": {"orient": "left", "ticks": false, "labels": false, "domain": true, "title": null}},
                   "yError": {"field": "e"}}},
     {"transform": [{"filter": {"field": "s", "equal": "MW"}}],
      "mark": {"type": "errorband", "color": "#b48cd4", "band": {"opacity": 1}},
      "encoding": {"x": {"field": "x", "type": "quantitative", "axis": {"orient": "top", "values": [0, 1, 2, 3], "tickSize": -16, "labels": false, "domain": true, "title": null}},
                   "y": {"field": "y", "type": "quantitative", "axis": {"orient": "right", "values": [8.5, 9, 9.5, 10], "tickSize": -5, "labels": false, "domain": false, "title": null}},
                   "yError": {"field": "e"}}},
     {"mark": {"type": "line", "strokeWidth": 2.2},
      "encoding": {"x": {"field": "x", "type": "quantitative", "axis": {"orient": "bottom", "values": [0, 1, 2, 3], "tickSize": -16, "labels": false, "domain": false, "title": null}},
                   "y": {"field": "y", "type": "quantitative", "axis": {"orient": "left", "values": [8.5, 9, 9.5, 10], "tickSize": -16, "labels": false, "domain": false, "title": null}},
                   "color": {"field": "s", "type": "nominal", "scale": {"domain": ["MW", "LW"], "range": ["#5b2a6c", "#c59696"]}, "legend": null}}},
     {"transform": [{"filter": {"field": "s", "equal": "LW"}}],
      "mark": {"type": "errorbar", "color": "#c59696", "ticks": true, "size": 10, "thickness": 2.8},
      "encoding": {"x": {"field": "x", "type": "quantitative", "axis": {"orient": "bottom", "values": [0.2, 0.4, 0.6, 0.8, 1.2, 1.4, 1.6, 1.8, 2.2, 2.4, 2.6, 2.8], "tickSize": -8, "labels": false, "domain": false, "title": null}},
                   "y": {"field": "y", "type": "quantitative", "axis": {"orient": "left", "values": [8.5, 8.6, 8.7, 8.8, 8.9, 9.1, 9.2, 9.3, 9.4, 9.6, 9.7, 9.8, 9.9, 10.1], "tickSize": -9, "labels": false, "domain": false, "title": null}},
                   "yError": {"field": "e"}}},
     {"transform": [{"filter": {"field": "s", "equal": "MW"}}],
      "mark": {"type": "errorbar", "color": "#5b2a6c", "ticks": true, "size": 10, "thickness": 2.8},
      "encoding": {"x": {"field": "x", "type": "quantitative", "axis": {"orient": "top", "values": [0.2, 0.4, 0.6, 0.8, 1.2, 1.4, 1.6, 1.8, 2.2, 2.4, 2.6, 2.8], "tickSize": -9, "labels": false, "domain": false, "title": null}},
                   "y": {"field": "y", "type": "quantitative", "axis": null},
                   "yError": {"field": "e"}}},
     {"mark": {"type": "circle", "size": 55, "opacity": 1},
      "encoding": {"x": {"field": "x", "type": "quantitative", "axis": null},
                   "y": {"field": "y", "type": "quantitative", "axis": null},
                   "color": {"field": "s", "type": "nominal", "legend": null}}}
    ]
   }
  ]
 }
]
}
